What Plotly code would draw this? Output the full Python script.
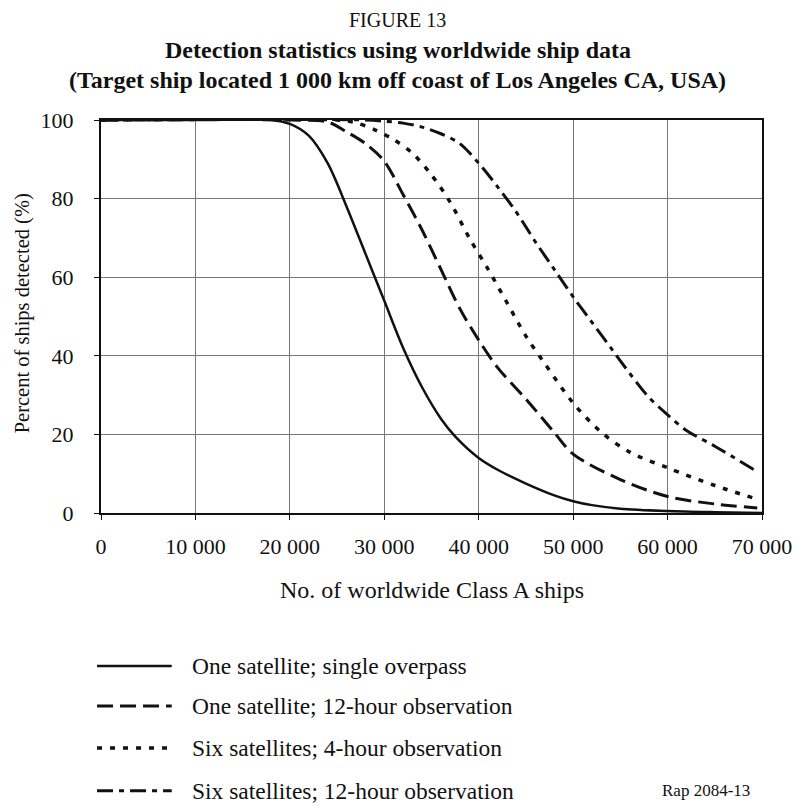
import plotly.graph_objects as go

# ---- data ----
x_single = [0, 10000, 18000, 20000, 22000, 24000, 26000, 28000, 30000, 32000, 34000,
            36000, 37500, 40000, 42000, 45000, 48000, 50000, 52000, 55000, 60000, 65000, 70000]
y_single = [100, 100, 100, 99, 96, 89, 78, 66, 54, 42, 32,
            24, 19.5, 14, 11, 7.5, 4.5, 3, 2.0, 1.1, 0.5, 0.2, 0]

x_one12 = [0, 20000, 24000, 26000, 28000, 30000, 32000, 34000, 36000, 38000, 40000,
           42000, 45000, 48000, 50000, 55000, 60000, 65000, 69500]
y_one12 = [100, 100, 99.5, 97, 94, 89.5, 81, 72, 62, 52, 44,
           37, 29, 20.5, 15, 8.5, 4.2, 2.3, 1.3]

x_six4 = [0, 25000, 27000, 29000, 31000, 33000, 35000, 37000, 39000, 41000, 43000,
          45000, 47000, 50000, 53000, 56000, 60000, 65000, 69500]
y_six4 = [100, 100, 99.3, 97.5, 95, 91.5, 86, 79, 70, 62, 53.5,
          45, 38, 28, 20.5, 15.5, 11.5, 7, 3.5]

x_six12 = [0, 28000, 30000, 32000, 34000, 36000, 38000, 40000, 42000, 44000, 46000,
           48000, 50000, 52000, 54000, 56000, 58000, 60000, 62000, 65000, 69500]
y_six12 = [100, 100, 99.7, 99.2, 98.2, 96.5, 94, 89, 83, 76.5, 69,
           62, 55, 48.5, 42, 35.5, 29.5, 25, 21, 17, 10.5]

series_names = ["One satellite; single overpass",
                "One satellite; 12-hour observation",
                "Six satellites; 4-hour observation",
                "Six satellites; 12-hour observation"]

x_tickvals = [0, 10000, 20000, 30000, 40000, 50000, 60000, 70000]
x_ticktext = ["0", "10 000", "20 000", "30 000", "40 000", "50 000", "60 000", "70 000"]
y_tickvals = [0, 20, 40, 60, 80, 100]

# ---- styles ----
FONT = "Liberation Serif, Times New Roman, serif"
styles = [dict(dash="solid", width=2.5),
          dict(dash="16px,7px", width=3),
          dict(dash="5px,8px", width=3.5),
          dict(dash="16px,6px,5px,6px", width=3)]

fig = go.Figure()
for xs, ys, name, st in zip([x_single, x_one12, x_six4, x_six12],
                            [y_single, y_one12, y_six4, y_six12],
                            series_names, styles):
    fig.add_trace(go.Scatter(x=xs, y=ys, mode="lines", name=name,
                             line=dict(color="#111111", width=st["width"],
                                       dash=st["dash"], shape="spline", smoothing=0.9),
                             showlegend=False))

fig.update_layout(
    width=796, height=809,
    margin=dict(l=101, r=34, t=120, b=296),
    paper_bgcolor="white", plot_bgcolor="white",
    font=dict(family=FONT, size=22, color="#111111"),
)
fig.update_xaxes(range=[0, 70000], tickvals=x_tickvals, ticktext=x_ticktext,
                 showgrid=True, gridcolor="#777777", gridwidth=1,
                 showline=True, linecolor="#111111", linewidth=2, mirror=True,
                 ticks="outside", ticklen=5, tickcolor="#111111",
                 ticklabelstandoff=8, zeroline=False, automargin=False,
                 tickfont=dict(family=FONT, size=22))
fig.update_yaxes(range=[0, 100], tickvals=y_tickvals,
                 showgrid=True, gridcolor="#777777", gridwidth=1,
                 showline=True, linecolor="#111111", linewidth=2, mirror=True,
                 ticks="outside", ticklen=5, tickcolor="#111111",
                 ticklabelstandoff=16, zeroline=False, automargin=False,
                 tickfont=dict(family=FONT, size=22))

annotations = [
    dict(text="FIGURE 13", x=0.449, y=1.2545, font=dict(size=20)),
    dict(text="<b>Detection statistics using worldwide ship data</b>", x=0.449, y=1.178,
         font=dict(size=24)),
    dict(text="<b>(Target ship located 1 000 km off coast of Los Angeles CA, USA)</b>",
         x=0.449, y=1.102, font=dict(size=24)),
    dict(text="No. of worldwide Class A ships", x=0.5, y=-0.196, font=dict(size=24)),
    dict(text="Percent of ships detected (%)", x=-0.1195, y=0.508, textangle=-90,
         font=dict(size=20.5)),
    dict(text="Rap 2084-13", x=0.985, y=-0.707, xanchor="right", font=dict(size=17)),
]
for a in annotations:
    a.setdefault("xanchor", "center")
    a.update(xref="paper", yref="paper", yanchor="middle", showarrow=False)

# legend drawn below the plot
leg_rows_y = [-0.389, -0.491, -0.598, -0.707]
shapes = []
for name, st, ly in zip(series_names, styles, leg_rows_y):
    shapes.append(dict(type="line", xref="paper", yref="paper",
                       x0=-0.006, x1=0.107, y0=ly, y1=ly,
                       line=dict(color="#111111", width=st["width"], dash=st["dash"])))
    annotations.append(dict(text=name, x=0.1346, y=ly, xref="paper", yref="paper",
                            xanchor="left", yanchor="middle", showarrow=False,
                            font=dict(size=23.5)))

fig.update_layout(annotations=annotations, shapes=shapes)
fig.write_html("out.html")
